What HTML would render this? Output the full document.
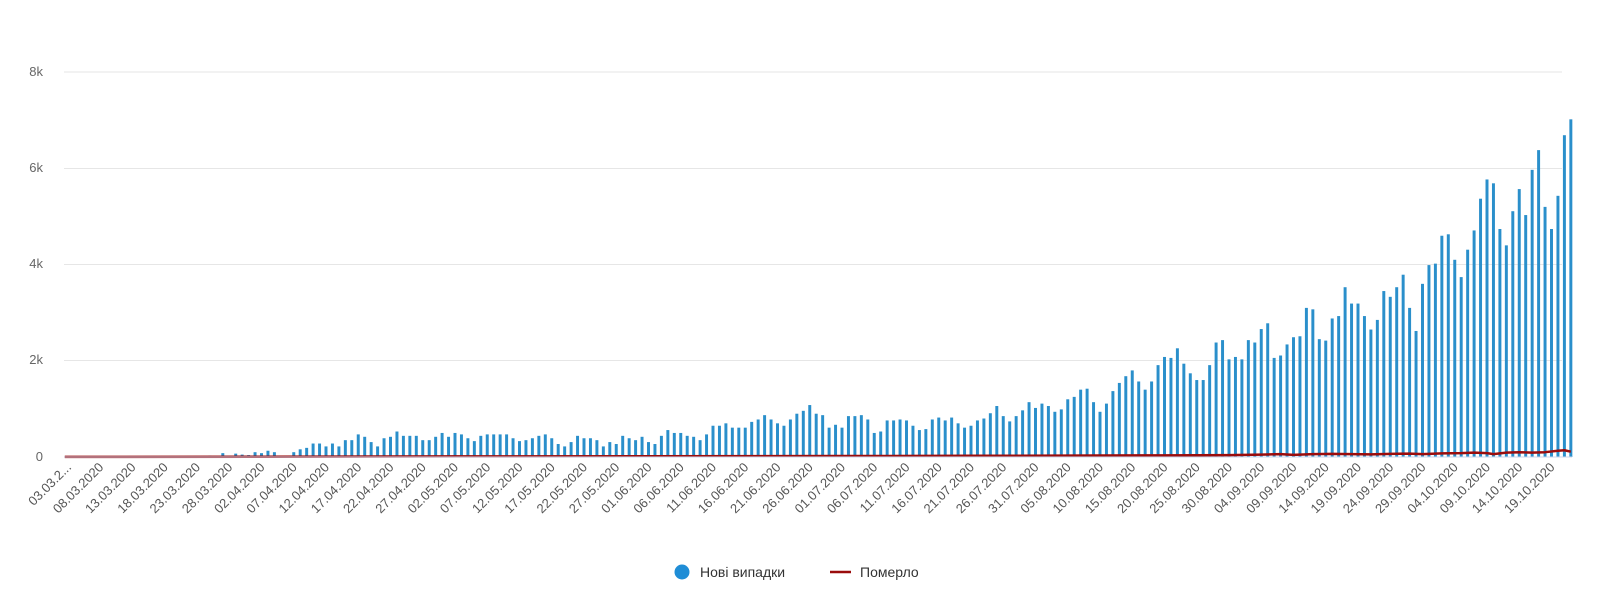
<!DOCTYPE html>
<html><head><meta charset="utf-8"><style>
html,body{margin:0;padding:0;background:#fff;}
svg{display:block;font-family:"Liberation Sans","DejaVu Sans",sans-serif;}
</style></head><body>
<svg width="1602" height="590" viewBox="0 0 1602 590" xmlns="http://www.w3.org/2000/svg">
<g stroke="#e6e6e6" stroke-width="1">
<line x1="64" y1="72" x2="1562" y2="72"/>
<line x1="64" y1="168.5" x2="1562" y2="168.5"/>
<line x1="64" y1="264.5" x2="1562" y2="264.5"/>
<line x1="64" y1="360.5" x2="1562" y2="360.5"/>
</g>
<g fill="#666" font-size="13" text-anchor="end">
<text x="43" y="76">8k</text>
<text x="43" y="172">6k</text>
<text x="43" y="268">4k</text>
<text x="43" y="364">2k</text>
<text x="43" y="461">0</text>
</g>
<g transform="translate(68,457) scale(6.45,-48.1)" fill="#2a8fcb">
<rect x="17.77" y="0" width="0.46" height="0.01"/><rect x="18.77" y="0" width="0.46" height="0.01"/><rect x="19.77" y="0" width="0.46" height="0.02"/><rect x="20.77" y="0" width="0.46" height="0.02"/><rect x="21.77" y="0" width="0.46" height="0.03"/><rect x="22.77" y="0" width="0.46" height="0.02"/>
<rect x="23.77" y="0" width="0.46" height="0.08"/><rect x="24.77" y="0" width="0.46" height="0.02"/><rect x="25.77" y="0" width="0.46" height="0.07"/><rect x="26.77" y="0" width="0.46" height="0.05"/><rect x="27.77" y="0" width="0.46" height="0.04"/><rect x="28.77" y="0" width="0.46" height="0.1"/><rect x="29.77" y="0" width="0.46" height="0.08"/><rect x="30.77" y="0" width="0.46" height="0.13"/><rect x="31.77" y="0" width="0.46" height="0.1"/><rect x="32.77" y="0" width="0.46" height="0.01"/><rect x="33.77" y="0" width="0.46" height="0.01"/>
<rect x="34.77" y="0" width="0.46" height="0.1"/><rect x="35.77" y="0" width="0.46" height="0.16"/><rect x="36.77" y="0" width="0.46" height="0.19"/><rect x="37.77" y="0" width="0.46" height="0.28"/><rect x="38.77" y="0" width="0.46" height="0.28"/><rect x="39.77" y="0" width="0.46" height="0.22"/><rect x="40.77" y="0" width="0.46" height="0.28"/><rect x="41.77" y="0" width="0.46" height="0.22"/><rect x="42.77" y="0" width="0.46" height="0.35"/><rect x="43.77" y="0" width="0.46" height="0.35"/><rect x="44.77" y="0" width="0.46" height="0.47"/><rect x="45.77" y="0" width="0.46" height="0.42"/><rect x="46.77" y="0" width="0.46" height="0.31"/><rect x="47.77" y="0" width="0.46" height="0.22"/><rect x="48.77" y="0" width="0.46" height="0.39"/><rect x="49.77" y="0" width="0.46" height="0.42"/><rect x="50.77" y="0" width="0.46" height="0.53"/><rect x="51.77" y="0" width="0.46" height="0.44"/><rect x="52.77" y="0" width="0.46" height="0.44"/><rect x="53.77" y="0" width="0.46" height="0.44"/><rect x="54.77" y="0" width="0.46" height="0.35"/><rect x="55.77" y="0" width="0.46" height="0.35"/><rect x="56.77" y="0" width="0.46" height="0.42"/><rect x="57.77" y="0" width="0.46" height="0.5"/><rect x="58.77" y="0" width="0.46" height="0.42"/><rect x="59.77" y="0" width="0.46" height="0.5"/><rect x="60.77" y="0" width="0.46" height="0.47"/><rect x="61.77" y="0" width="0.46" height="0.39"/><rect x="62.77" y="0" width="0.46" height="0.33"/><rect x="63.77" y="0" width="0.46" height="0.44"/><rect x="64.77" y="0" width="0.46" height="0.47"/><rect x="65.77" y="0" width="0.46" height="0.47"/><rect x="66.77" y="0" width="0.46" height="0.47"/><rect x="67.77" y="0" width="0.46" height="0.47"/><rect x="68.77" y="0" width="0.46" height="0.39"/><rect x="69.77" y="0" width="0.46" height="0.33"/><rect x="70.77" y="0" width="0.46" height="0.35"/><rect x="71.77" y="0" width="0.46" height="0.39"/><rect x="72.77" y="0" width="0.46" height="0.44"/><rect x="73.77" y="0" width="0.46" height="0.47"/><rect x="74.77" y="0" width="0.46" height="0.39"/><rect x="75.77" y="0" width="0.46" height="0.27"/><rect x="76.77" y="0" width="0.46" height="0.22"/><rect x="77.77" y="0" width="0.46" height="0.31"/><rect x="78.77" y="0" width="0.46" height="0.44"/><rect x="79.77" y="0" width="0.46" height="0.39"/><rect x="80.77" y="0" width="0.46" height="0.39"/><rect x="81.77" y="0" width="0.46" height="0.35"/>
<rect x="82.77" y="0" width="0.46" height="0.22"/><rect x="83.77" y="0" width="0.46" height="0.31"/><rect x="84.77" y="0" width="0.46" height="0.27"/><rect x="85.77" y="0" width="0.46" height="0.44"/><rect x="86.77" y="0" width="0.46" height="0.39"/><rect x="87.77" y="0" width="0.46" height="0.35"/><rect x="88.77" y="0" width="0.46" height="0.42"/><rect x="89.77" y="0" width="0.46" height="0.31"/><rect x="90.77" y="0" width="0.46" height="0.27"/><rect x="91.77" y="0" width="0.46" height="0.44"/><rect x="92.77" y="0" width="0.46" height="0.56"/><rect x="93.77" y="0" width="0.46" height="0.5"/><rect x="94.77" y="0" width="0.46" height="0.5"/><rect x="95.77" y="0" width="0.46" height="0.44"/><rect x="96.77" y="0" width="0.46" height="0.42"/><rect x="97.77" y="0" width="0.46" height="0.35"/><rect x="98.77" y="0" width="0.46" height="0.47"/><rect x="99.77" y="0" width="0.46" height="0.65"/><rect x="100.77" y="0" width="0.46" height="0.65"/><rect x="101.77" y="0" width="0.46" height="0.7"/><rect x="102.77" y="0" width="0.46" height="0.61"/><rect x="103.77" y="0" width="0.46" height="0.61"/><rect x="104.77" y="0" width="0.46" height="0.61"/><rect x="105.77" y="0" width="0.46" height="0.73"/><rect x="106.77" y="0" width="0.46" height="0.78"/><rect x="107.77" y="0" width="0.46" height="0.87"/><rect x="108.77" y="0" width="0.46" height="0.78"/><rect x="109.77" y="0" width="0.46" height="0.7"/><rect x="110.77" y="0" width="0.46" height="0.65"/><rect x="111.77" y="0" width="0.46" height="0.78"/><rect x="112.77" y="0" width="0.46" height="0.9"/><rect x="113.77" y="0" width="0.46" height="0.96"/><rect x="114.77" y="0" width="0.46" height="1.08"/><rect x="115.77" y="0" width="0.46" height="0.9"/><rect x="116.77" y="0" width="0.46" height="0.87"/><rect x="117.77" y="0" width="0.46" height="0.61"/><rect x="118.77" y="0" width="0.46" height="0.67"/><rect x="119.77" y="0" width="0.46" height="0.61"/><rect x="120.77" y="0" width="0.46" height="0.85"/><rect x="121.77" y="0" width="0.46" height="0.85"/><rect x="122.77" y="0" width="0.46" height="0.87"/><rect x="123.77" y="0" width="0.46" height="0.78"/><rect x="124.77" y="0" width="0.46" height="0.5"/><rect x="125.77" y="0" width="0.46" height="0.53"/><rect x="126.77" y="0" width="0.46" height="0.76"/><rect x="127.77" y="0" width="0.46" height="0.76"/><rect x="128.77" y="0" width="0.46" height="0.78"/><rect x="129.77" y="0" width="0.46" height="0.76"/><rect x="130.77" y="0" width="0.46" height="0.65"/><rect x="131.77" y="0" width="0.46" height="0.56"/><rect x="132.77" y="0" width="0.46" height="0.58"/><rect x="133.77" y="0" width="0.46" height="0.78"/><rect x="134.77" y="0" width="0.46" height="0.82"/><rect x="135.77" y="0" width="0.46" height="0.76"/><rect x="136.77" y="0" width="0.46" height="0.82"/><rect x="137.77" y="0" width="0.46" height="0.7"/><rect x="138.77" y="0" width="0.46" height="0.61"/><rect x="139.77" y="0" width="0.46" height="0.65"/><rect x="140.77" y="0" width="0.46" height="0.76"/>
<rect x="141.77" y="0" width="0.46" height="0.8"/><rect x="142.77" y="0" width="0.46" height="0.91"/><rect x="143.77" y="0" width="0.46" height="1.06"/><rect x="144.77" y="0" width="0.46" height="0.85"/><rect x="145.77" y="0" width="0.46" height="0.74"/><rect x="146.77" y="0" width="0.46" height="0.85"/><rect x="147.77" y="0" width="0.46" height="0.97"/><rect x="148.77" y="0" width="0.46" height="1.14"/><rect x="149.77" y="0" width="0.46" height="1.02"/><rect x="150.77" y="0" width="0.46" height="1.11"/><rect x="151.77" y="0" width="0.46" height="1.06"/><rect x="152.77" y="0" width="0.46" height="0.94"/><rect x="153.77" y="0" width="0.46" height="0.99"/><rect x="154.77" y="0" width="0.46" height="1.2"/><rect x="155.77" y="0" width="0.46" height="1.25"/><rect x="156.77" y="0" width="0.46" height="1.4"/><rect x="157.77" y="0" width="0.46" height="1.42"/><rect x="158.77" y="0" width="0.46" height="1.14"/><rect x="159.77" y="0" width="0.46" height="0.94"/><rect x="160.77" y="0" width="0.46" height="1.11"/><rect x="161.77" y="0" width="0.46" height="1.37"/><rect x="162.77" y="0" width="0.46" height="1.54"/><rect x="163.77" y="0" width="0.46" height="1.68"/><rect x="164.77" y="0" width="0.46" height="1.8"/><rect x="165.77" y="0" width="0.46" height="1.57"/><rect x="166.77" y="0" width="0.46" height="1.4"/><rect x="167.77" y="0" width="0.46" height="1.57"/><rect x="168.77" y="0" width="0.46" height="1.91"/><rect x="169.77" y="0" width="0.46" height="2.08"/><rect x="170.77" y="0" width="0.46" height="2.06"/><rect x="171.77" y="0" width="0.46" height="2.26"/><rect x="172.77" y="0" width="0.46" height="1.94"/><rect x="173.77" y="0" width="0.46" height="1.74"/><rect x="174.77" y="0" width="0.46" height="1.6"/><rect x="175.77" y="0" width="0.46" height="1.6"/><rect x="176.77" y="0" width="0.46" height="1.91"/><rect x="177.77" y="0" width="0.46" height="2.38"/><rect x="178.77" y="0" width="0.46" height="2.43"/><rect x="179.77" y="0" width="0.46" height="2.03"/><rect x="180.77" y="0" width="0.46" height="2.08"/><rect x="181.77" y="0" width="0.46" height="2.03"/><rect x="182.77" y="0" width="0.46" height="2.43"/><rect x="183.77" y="0" width="0.46" height="2.38"/><rect x="184.77" y="0" width="0.46" height="2.66"/><rect x="185.77" y="0" width="0.46" height="2.78"/><rect x="186.77" y="0" width="0.46" height="2.06"/><rect x="187.77" y="0" width="0.46" height="2.11"/><rect x="188.77" y="0" width="0.46" height="2.34"/><rect x="189.77" y="0" width="0.46" height="2.49"/><rect x="190.77" y="0" width="0.46" height="2.51"/>
<rect x="191.77" y="0" width="0.46" height="3.1"/><rect x="192.77" y="0" width="0.46" height="3.07"/><rect x="193.77" y="0" width="0.46" height="2.45"/><rect x="194.77" y="0" width="0.46" height="2.42"/><rect x="195.77" y="0" width="0.46" height="2.88"/><rect x="196.77" y="0" width="0.46" height="2.93"/><rect x="197.77" y="0" width="0.46" height="3.53"/><rect x="198.77" y="0" width="0.46" height="3.19"/><rect x="199.77" y="0" width="0.46" height="3.19"/><rect x="200.77" y="0" width="0.46" height="2.93"/><rect x="201.77" y="0" width="0.46" height="2.65"/><rect x="202.77" y="0" width="0.46" height="2.85"/><rect x="203.77" y="0" width="0.46" height="3.45"/><rect x="204.77" y="0" width="0.46" height="3.33"/><rect x="205.77" y="0" width="0.46" height="3.53"/><rect x="206.77" y="0" width="0.46" height="3.79"/><rect x="207.77" y="0" width="0.46" height="3.1"/><rect x="208.77" y="0" width="0.46" height="2.62"/><rect x="209.77" y="0" width="0.46" height="3.6"/><rect x="210.77" y="0" width="0.46" height="3.99"/><rect x="211.77" y="0" width="0.46" height="4.02"/><rect x="212.77" y="0" width="0.46" height="4.6"/><rect x="213.77" y="0" width="0.46" height="4.63"/><rect x="214.77" y="0" width="0.46" height="4.1"/><rect x="215.77" y="0" width="0.46" height="3.74"/><rect x="216.77" y="0" width="0.46" height="4.31"/><rect x="217.77" y="0" width="0.46" height="4.71"/><rect x="218.77" y="0" width="0.46" height="5.37"/><rect x="219.77" y="0" width="0.46" height="5.77"/><rect x="220.77" y="0" width="0.46" height="5.69"/><rect x="221.77" y="0" width="0.46" height="4.74"/><rect x="222.77" y="0" width="0.46" height="4.4"/><rect x="223.77" y="0" width="0.46" height="5.11"/><rect x="224.77" y="0" width="0.46" height="5.57"/><rect x="225.77" y="0" width="0.46" height="5.03"/><rect x="226.77" y="0" width="0.46" height="5.97"/><rect x="227.77" y="0" width="0.46" height="6.38"/><rect x="228.77" y="0" width="0.46" height="5.2"/><rect x="229.77" y="0" width="0.46" height="4.74"/><rect x="230.77" y="0" width="0.46" height="5.43"/><rect x="231.77" y="0" width="0.46" height="6.69"/><rect x="232.77" y="0" width="0.46" height="7.02"/>
<polyline fill="none" stroke="#9a0c0c" stroke-width="2.5" vector-effect="non-scaling-stroke" stroke-linejoin="round" points="-0.5,0.003 30,0.005 60,0.012 90,0.016 120,0.02 140,0.025 160,0.03 170,0.035 180,0.04 185,0.05 188,0.06 190,0.045 193,0.06 196,0.065 199,0.06 202,0.055 205,0.065 208,0.07 210,0.06 213,0.075 216,0.08 218,0.09 220,0.08 221,0.06 223,0.09 225,0.1 227,0.09 229,0.1 231,0.13 232,0.14 233,0.11"/>
</g>
<line x1="64" y1="457" x2="1572" y2="457" stroke="#ccd6eb" stroke-width="1"/>
<g fill="#555" font-size="13" text-anchor="end">
<text transform="translate(72,468) rotate(-45)">03.03.2...</text>
<text transform="translate(104.25,468) rotate(-45)">08.03.2020</text>
<text transform="translate(136.5,468) rotate(-45)">13.03.2020</text>
<text transform="translate(168.75,468) rotate(-45)">18.03.2020</text>
<text transform="translate(201,468) rotate(-45)">23.03.2020</text>
<text transform="translate(233.25,468) rotate(-45)">28.03.2020</text>
<text transform="translate(265.5,468) rotate(-45)">02.04.2020</text>
<text transform="translate(297.75,468) rotate(-45)">07.04.2020</text>
<text transform="translate(330,468) rotate(-45)">12.04.2020</text>
<text transform="translate(362.25,468) rotate(-45)">17.04.2020</text>
<text transform="translate(394.5,468) rotate(-45)">22.04.2020</text>
<text transform="translate(426.75,468) rotate(-45)">27.04.2020</text>
<text transform="translate(459,468) rotate(-45)">02.05.2020</text>
<text transform="translate(491.25,468) rotate(-45)">07.05.2020</text>
<text transform="translate(523.5,468) rotate(-45)">12.05.2020</text>
<text transform="translate(555.75,468) rotate(-45)">17.05.2020</text>
<text transform="translate(588,468) rotate(-45)">22.05.2020</text>
<text transform="translate(620.25,468) rotate(-45)">27.05.2020</text>
<text transform="translate(652.5,468) rotate(-45)">01.06.2020</text>
<text transform="translate(684.75,468) rotate(-45)">06.06.2020</text>
<text transform="translate(717,468) rotate(-45)">11.06.2020</text>
<text transform="translate(749.25,468) rotate(-45)">16.06.2020</text>
<text transform="translate(781.5,468) rotate(-45)">21.06.2020</text>
<text transform="translate(813.75,468) rotate(-45)">26.06.2020</text>
<text transform="translate(846,468) rotate(-45)">01.07.2020</text>
<text transform="translate(878.25,468) rotate(-45)">06.07.2020</text>
<text transform="translate(910.5,468) rotate(-45)">11.07.2020</text>
<text transform="translate(942.75,468) rotate(-45)">16.07.2020</text>
<text transform="translate(975,468) rotate(-45)">21.07.2020</text>
<text transform="translate(1007.25,468) rotate(-45)">26.07.2020</text>
<text transform="translate(1039.5,468) rotate(-45)">31.07.2020</text>
<text transform="translate(1071.75,468) rotate(-45)">05.08.2020</text>
<text transform="translate(1104,468) rotate(-45)">10.08.2020</text>
<text transform="translate(1136.25,468) rotate(-45)">15.08.2020</text>
<text transform="translate(1168.5,468) rotate(-45)">20.08.2020</text>
<text transform="translate(1200.75,468) rotate(-45)">25.08.2020</text>
<text transform="translate(1233,468) rotate(-45)">30.08.2020</text>
<text transform="translate(1265.25,468) rotate(-45)">04.09.2020</text>
<text transform="translate(1297.5,468) rotate(-45)">09.09.2020</text>
<text transform="translate(1329.75,468) rotate(-45)">14.09.2020</text>
<text transform="translate(1362,468) rotate(-45)">19.09.2020</text>
<text transform="translate(1394.25,468) rotate(-45)">24.09.2020</text>
<text transform="translate(1426.5,468) rotate(-45)">29.09.2020</text>
<text transform="translate(1458.75,468) rotate(-45)">04.10.2020</text>
<text transform="translate(1491,468) rotate(-45)">09.10.2020</text>
<text transform="translate(1523.25,468) rotate(-45)">14.10.2020</text>
<text transform="translate(1555.5,468) rotate(-45)">19.10.2020</text>
</g>
<circle cx="682" cy="572" r="7.5" fill="#1f8dd6"/>
<text x="700" y="577" font-size="14" fill="#333">Нові випадки</text>
<line x1="830" y1="572" x2="851" y2="572" stroke="#9a0c0c" stroke-width="2.5"/>
<text x="860" y="577" font-size="14" fill="#333">Померло</text>
</svg>
</body></html>
